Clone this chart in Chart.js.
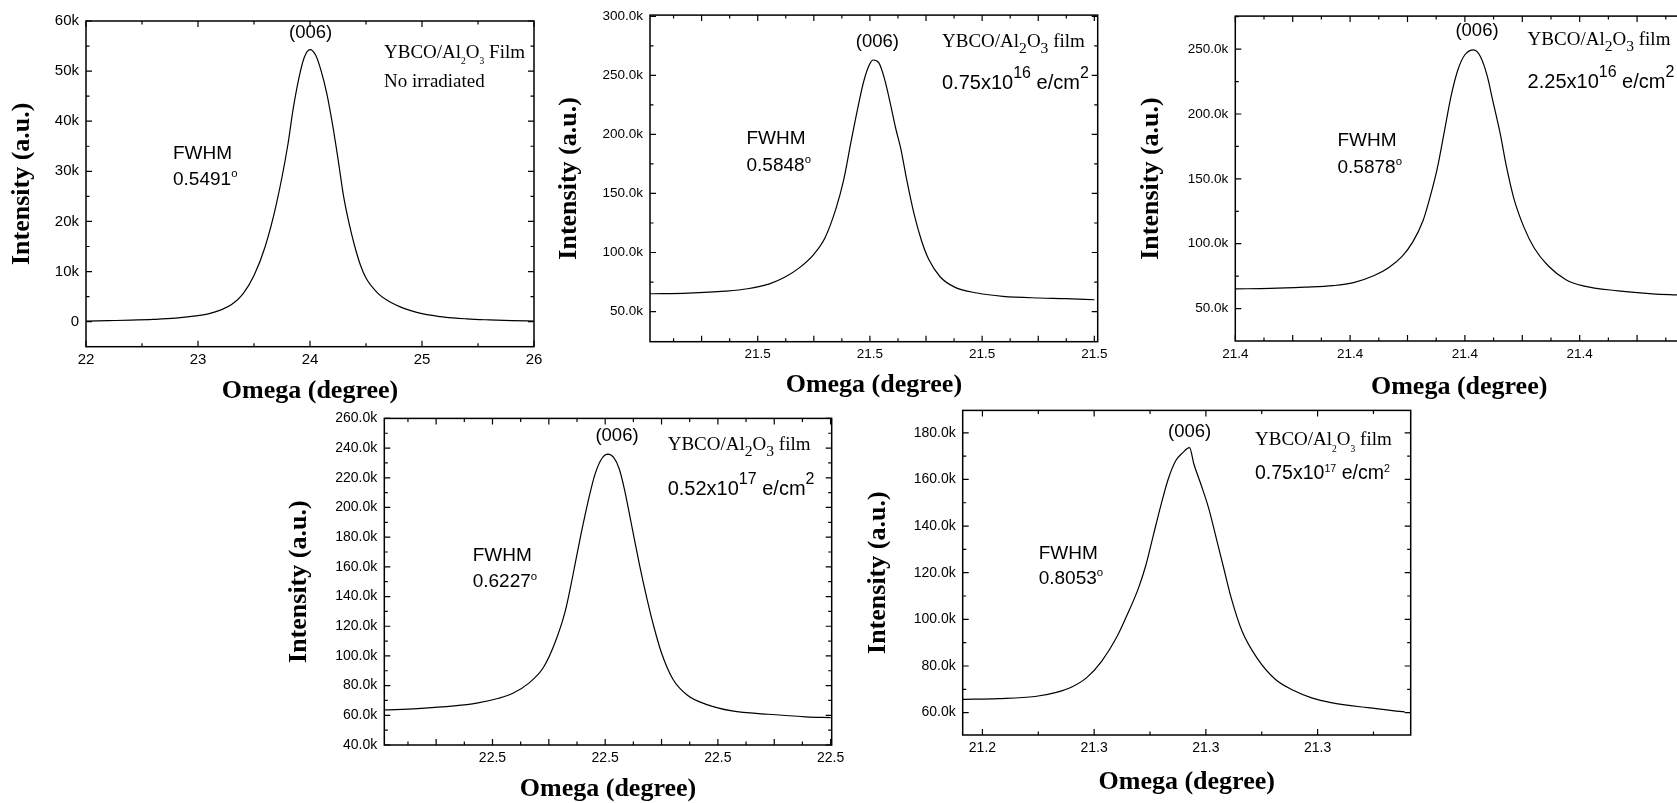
<!DOCTYPE html>
<html>
<head>
<meta charset="utf-8">
<script src="https://cdn.jsdelivr.net/npm/chart.js@4.4.1/dist/chart.umd.min.js"></script>
<style>
  html, body { margin: 0; padding: 0; width: 1677px; height: 803px; overflow: hidden; background: #fff; }
  canvas { position: absolute; }
  .note { position: absolute; white-space: nowrap; line-height: 1; color: #000; transform: translateY(-50%); }
  .note.mid { transform: translate(-50%, -50%); }
  .sans { font-family: "Liberation Sans", Arial, sans-serif; }
  .serif { font-family: "Liberation Serif", "Times New Roman", serif; }
  .note span { position: relative; line-height: 0; }
</style>
</head>
<body>
<script>
(function () {
  "use strict";

  // ---- Panel 1 : no irradiation ----
  const p1X = [22.0, 22.2, 22.4, 22.6, 22.8, 23.0, 23.1, 23.2, 23.3, 23.4, 23.5, 23.6, 23.7, 23.8, 23.85, 23.9, 23.95, 24.0, 24.05, 24.1, 24.15, 24.2, 24.25, 24.3, 24.35, 24.4, 24.45, 24.5, 24.6, 24.7, 24.8, 24.9, 25.0, 25.2, 25.4, 25.6, 25.8, 26.0];
  const p1Y = [100, 200, 300, 450, 700, 1200, 1600, 2300, 3400, 5500, 9200, 15000, 23500, 35000, 42500, 48500, 52800, 54300, 53200, 50000, 45500, 39500, 32500, 25000, 19500, 15000, 11300, 8700, 5800, 4100, 3000, 2200, 1600, 900, 550, 350, 200, 120];
  const p1XTicks = [22, 23, 24, 25, 26];
  const p1XMinor = [22.5, 23.5, 24.5, 25.5];
  const p1YTicks = [0, 10000, 20000, 30000, 40000, 50000, 60000];
  const p1YMinor = [5000, 15000, 25000, 35000, 45000, 55000];

  // ---- Panel 2 : 0.75x10^16 e/cm^2 ----
  const p2X = [21.4408, 21.4476, 21.4542, 21.4582, 21.4621, 21.4648, 21.4674, 21.4700, 21.4720, 21.4740, 21.4753, 21.4766, 21.4780, 21.4789, 21.4799, 21.4806, 21.4816, 21.4826, 21.4836, 21.4846, 21.4855, 21.4865, 21.4879, 21.4892, 21.4905, 21.4925, 21.4951, 21.4991, 21.5037, 21.5103, 21.5149, 21.5200];
  const p2Y = [65100, 65700, 67300, 69300, 73500, 79000, 87000, 98500, 112500, 138000, 161000, 193000, 226000, 245000, 259000, 263000, 260500, 247000, 227000, 205000, 188000, 163000, 132000, 110000, 94000, 79500, 70700, 65700, 62900, 61500, 61000, 60000];
  const p2XTicks = [21.46, 21.48, 21.50, 21.52];
  const p2XMajor = [21.45, 21.47, 21.49, 21.51];
  const p2XMinor = [21.445, 21.455, 21.465, 21.475, 21.485, 21.495, 21.505, 21.515];
  const p2YTicks = [50000, 100000, 150000, 200000, 250000, 300000];
  const p2YMinor = [75000, 125000, 175000, 225000, 275000];

  // ---- Panel 3 : 2.25x10^16 e/cm^2 ----
  const p3X = [21.3600, 21.3661, 21.3721, 21.3770, 21.3806, 21.3842, 21.3867, 21.3891, 21.3909, 21.3927, 21.3939, 21.3952, 21.3964, 21.3976, 21.3988, 21.4000, 21.4015, 21.4027, 21.4039, 21.4048, 21.4061, 21.4073, 21.4085, 21.4103, 21.4121, 21.4145, 21.4176, 21.4206, 21.4267, 21.4327, 21.4368, 21.4380];
  const p3Y = [65200, 65500, 66500, 67700, 70000, 75500, 81500, 90500, 101200, 117700, 135400, 158200, 186000, 214000, 234300, 245700, 249500, 244400, 229200, 211500, 186000, 158200, 135400, 112600, 96500, 83000, 72300, 67500, 63700, 61400, 60600, 60400];
  const p3XTicks = [21.36, 21.38, 21.40, 21.42];
  const p3XMajor = [21.37, 21.39, 21.41, 21.43];
  const p3XMinor = [21.365, 21.375, 21.385, 21.395, 21.405, 21.415, 21.425, 21.435];
  const p3YTicks = [50000, 100000, 150000, 200000, 250000];
  const p3YMinor = [75000, 125000, 175000, 225000, 275000];

  // ---- Panel 4 : 0.52x10^17 e/cm^2 ----
  const p4X = [22.4408, 22.4467, 22.4532, 22.4572, 22.4611, 22.4637, 22.4664, 22.4690, 22.4710, 22.4729, 22.4742, 22.4756, 22.4769, 22.4782, 22.4795, 22.4805, 22.4815, 22.4825, 22.4834, 22.4847, 22.4861, 22.4874, 22.4887, 22.4900, 22.4920, 22.4946, 22.4979, 22.5025, 22.5090, 22.5156, 22.5200];
  const p4Y = [63600, 64500, 66300, 68200, 71500, 75000, 81500, 92000, 108000, 130000, 153000, 180000, 203000, 222500, 233500, 235900, 233700, 225900, 212500, 187900, 161200, 138800, 118800, 102000, 84500, 73500, 67400, 63000, 60700, 59000, 58500];
  const p4XTicks = [22.46, 22.48, 22.50, 22.52];
  const p4XMajor = [22.45, 22.47, 22.49, 22.51];
  const p4XMinor = [22.445, 22.455, 22.465, 22.475, 22.485, 22.495, 22.505, 22.515];
  const p4YTicks = [40000, 60000, 80000, 100000, 120000, 140000, 160000, 180000, 200000, 220000, 240000, 260000];
  const p4YMinor = [50000, 70000, 90000, 110000, 130000, 150000, 170000, 190000, 210000, 230000, 250000];

  // ---- Panel 5 : 0.75x10^17 e/cm^2 ----
  const p5X = [21.2347, 21.2442, 21.2541, 21.2601, 21.2640, 21.2680, 21.2720, 21.2760, 21.2789, 21.2819, 21.2839, 21.2859, 21.2879, 21.2899, 21.2919, 21.2938, 21.2956, 21.2968, 21.2988, 21.3008, 21.3028, 21.3048, 21.3068, 21.3097, 21.3137, 21.3187, 21.3236, 21.3286, 21.3336, 21.3435, 21.3534];
  const p5Y = [65700, 66000, 66900, 68800, 71000, 75000, 82000, 92200, 102100, 113400, 123300, 136100, 148800, 160200, 168000, 171500, 173600, 166500, 157300, 147400, 134700, 121900, 109200, 95000, 83500, 74200, 69500, 66200, 64300, 62100, 60300];
  const p5XTicks = [21.24, 21.27, 21.30, 21.33];
  const p5XMinor = [21.255, 21.285, 21.315, 21.345];
  const p5YTicks = [60000, 80000, 100000, 120000, 140000, 160000, 180000];
  const p5YMinor = [70000, 90000, 110000, 130000, 150000, 170000];

  const SANS = '"Liberation Sans", Arial, sans-serif';
  const SERIF = '"Liberation Serif", "Times New Roman", serif';
  const TITLE_SIZE = 26;
  const TITLE_LH = TITLE_SIZE * 1.2;
  const MAJOR = 6;
  const MINOR = 3.5;

  Chart.defaults.font.family = SANS;
  Chart.defaults.color = '#000';

  const kFmt = v => (v / 1000).toFixed(1) + 'k';

  // box: plot area edges (L,R,T,B) and axis title centres (tx,ty) in page pixels
  const panels = [
    { xs: p1X, ys: p1Y, xMin: 22, xMax: 26, yMin: -5000, yMax: 60000,
      xLab: p1XTicks, xMaj: [], xMnr: p1XMinor, yLab: p1YTicks, yMnr: p1YMinor,
      xFmt: v => String(v), yFmt: v => (v === 0 ? '0' : (v / 1000) + 'k'), fs: 15,
      box: { L: 86, R: 534, T: 17.3, B: 346.7, tx: 22.7, ty: 391 } },
    { xs: p2X, ys: p2Y, xMin: 21.4408, xMax: 21.5206, yMin: 24500, yMax: 301000,
      xLab: p2XTicks, xMaj: p2XMajor, xMnr: p2XMinor, yLab: p2YTicks, yMnr: p2YMinor,
      xFmt: v => v.toFixed(1), yFmt: kFmt, fs: 13.5,
      box: { L: 650, R: 1097.7, T: 12.3, B: 341.7, tx: 570, ty: 385 } },
    { xs: p3X, ys: p3Y, xMin: 21.36, xMax: 21.438, yMin: 25000, yMax: 275500,
      xLab: p3XTicks, xMaj: p3XMajor, xMnr: p3XMinor, yLab: p3YTicks, yMnr: p3YMinor,
      xFmt: v => v.toFixed(1), yFmt: kFmt, fs: 13.5,
      box: { L: 1235.3, R: 1683, T: 12.7, B: 341, tx: 1151.7, ty: 387 } },
    { xs: p4X, ys: p4Y, xMin: 22.4408, xMax: 22.5202, yMin: 40000, yMax: 260000,
      xLab: p4XTicks, xMaj: p4XMajor, xMnr: p4XMinor, yLab: p4YTicks, yMnr: p4YMinor,
      xFmt: v => v.toFixed(1), yFmt: kFmt, fs: 14,
      box: { L: 384.3, R: 831.7, T: 415, B: 745, tx: 299.3, ty: 789 } },
    { xs: p5X, ys: p5Y, xMin: 21.2347, xMax: 21.355, yMin: 50400, yMax: 189600,
      xLab: p5XTicks, xMaj: [], xMnr: p5XMinor, yLab: p5YTicks, yMnr: p5YMinor,
      xFmt: v => v.toFixed(1), yFmt: kFmt, fs: 14,
      box: { L: 962.7, R: 1410.7, T: 407.3, B: 735, tx: 879, ty: 782 } }
  ];

  // Origin-style frame with inward ticks on all four sides
  function drawFrame(chart, p) {
    const { ctx, chartArea: a, scales: { x, y } } = chart;
    ctx.save();
    ctx.strokeStyle = '#000';
    ctx.lineWidth = 1.2;
    ctx.beginPath();
    const xt = (vals, len) => vals.forEach(v => {
      const px = x.getPixelForValue(v);
      if (px < a.left - 0.5 || px > a.right + 0.5) return;
      ctx.moveTo(px, a.bottom); ctx.lineTo(px, a.bottom - len);
      ctx.moveTo(px, a.top); ctx.lineTo(px, a.top + len);
    });
    const yt = (vals, len) => vals.forEach(v => {
      const py = y.getPixelForValue(v);
      if (py < a.top - 0.5 || py > a.bottom + 0.5) return;
      ctx.moveTo(a.left, py); ctx.lineTo(a.left + len, py);
      ctx.moveTo(a.right, py); ctx.lineTo(a.right - len, py);
    });
    xt(p.xLab, MAJOR); xt(p.xMaj, MAJOR); xt(p.xMnr, MINOR);
    yt(p.yLab, MAJOR); yt(p.yMnr, MINOR);
    ctx.stroke();
    ctx.lineWidth = 1.5;
    ctx.strokeRect(a.left, a.top, a.right - a.left, a.bottom - a.top);
    ctx.restore();
  }

  panels.forEach(p => {
    const b = p.box;
    const cl = Math.round(b.tx - TITLE_LH / 2);
    const cb = Math.round(b.ty + TITLE_LH / 2);
    const ct = Math.round(b.T - 12);
    const cr = Math.round(b.R + 22);
    const cv = document.createElement('canvas');
    cv.width = cr - cl;
    cv.height = cb - ct;
    cv.style.left = cl + 'px';
    cv.style.top = ct + 'px';
    document.body.appendChild(cv);

    new Chart(cv, {
      type: 'line',
      data: {
        datasets: [{
          data: p.xs.map((x, i) => ({ x: x, y: p.ys[i] })),
          borderColor: '#000',
          borderWidth: 1.2,
          pointRadius: 0,
          cubicInterpolationMode: 'monotone',
          fill: false
        }]
      },
      options: {
        responsive: false,
        animation: false,
        events: [],
        layout: { padding: { left: 0, bottom: 0, top: b.T - ct, right: cr - b.R } },
        plugins: { legend: { display: false }, tooltip: { enabled: false } },
        scales: {
          x: {
            type: 'linear',
            min: p.xMin,
            max: p.xMax,
            grid: { display: false, drawTicks: false },
            border: { display: false },
            afterBuildTicks: s => { s.ticks = p.xLab.map(v => ({ value: v })); },
            afterFit: s => { s.height = cb - b.B; },
            ticks: {
              callback: p.xFmt, autoSkip: false, maxRotation: 0, minRotation: 0,
              padding: 13 - p.fs * 0.6, font: { size: p.fs }, color: '#000'
            },
            title: {
              display: true, text: 'Omega (degree)', color: '#000', padding: 0,
              font: { family: SERIF, size: TITLE_SIZE, weight: 'bold' }
            }
          },
          y: {
            type: 'linear',
            min: p.yMin,
            max: p.yMax,
            grid: { display: false, drawTicks: false },
            border: { display: false },
            afterBuildTicks: s => { s.ticks = p.yLab.map(v => ({ value: v })); },
            afterFit: s => { s.width = b.L - cl; },
            ticks: { callback: p.yFmt, autoSkip: false, padding: 7, font: { size: p.fs }, color: '#000' },
            title: {
              display: true, text: 'Intensity (a.u.)', color: '#000', padding: 0,
              font: { family: SERIF, size: TITLE_SIZE, weight: 'bold' }
            }
          }
        }
      },
      plugins: [{ id: 'frameTicks', afterDraw: chart => drawFrame(chart, p) }]
    });
  });

  // ---- text annotations ----
  const subBig = t => '<span style="font-size:.82em;top:.38em">' + t + '</span>';
  const subTiny = t => '<span style="font-size:.5em;top:.7em">' + t + '</span>';
  const supBig = t => '<span style="font-size:.8em;top:-.69em">' + t + '</span>';
  const supSmall = t => '<span style="font-size:.55em;top:-.7em">' + t + '</span>';
  const deg = '<span style="font-size:.6em;top:-.68em">o</span>';

  const notes = [
    { x: 310.7, y: 32.2, f: 'sans', s: 18.5, mid: true, h: '(006)' },
    { x: 384, y: 50.8, f: 'serif', s: 19, h: 'YBCO/Al' + subTiny('2') + 'O' + subTiny('3') + ' Film' },
    { x: 384, y: 80.3, f: 'serif', s: 19, h: 'No irradiated' },
    { x: 173, y: 151.7, f: 'sans', s: 19, h: 'FWHM' },
    { x: 173, y: 177.8, f: 'sans', s: 19, h: '0.5491' + deg },

    { x: 877.4, y: 41, f: 'sans', s: 18.5, mid: true, h: '(006)' },
    { x: 942, y: 40.3, f: 'serif', s: 19, h: 'YBCO/Al' + subBig('2') + 'O' + subBig('3') + ' film' },
    { x: 942, y: 82, f: 'sans', s: 20, h: '0.75x10' + supBig('16') + ' e/cm' + supBig('2') },
    { x: 746.5, y: 137, f: 'sans', s: 19, h: 'FWHM' },
    { x: 746.5, y: 163.5, f: 'sans', s: 19, h: '0.5848' + deg },

    { x: 1477, y: 30, f: 'sans', s: 18.5, mid: true, h: '(006)' },
    { x: 1527.6, y: 38.3, f: 'serif', s: 19, h: 'YBCO/Al' + subBig('2') + 'O' + subBig('3') + ' film' },
    { x: 1527.6, y: 80.7, f: 'sans', s: 20, h: '2.25x10' + supBig('16') + ' e/cm' + supBig('2') },
    { x: 1337.5, y: 138.7, f: 'sans', s: 19, h: 'FWHM' },
    { x: 1337.5, y: 165.5, f: 'sans', s: 19, h: '0.5878' + deg },

    { x: 617, y: 434.7, f: 'sans', s: 18.5, mid: true, h: '(006)' },
    { x: 667.7, y: 443.3, f: 'serif', s: 19, h: 'YBCO/Al' + subBig('2') + 'O' + subBig('3') + ' film' },
    { x: 667.7, y: 488.3, f: 'sans', s: 20, h: '0.52x10' + supBig('17') + ' e/cm' + supBig('2') },
    { x: 472.7, y: 554, f: 'sans', s: 19, h: 'FWHM' },
    { x: 472.7, y: 580.3, f: 'sans', s: 19, h: '0.6227' + deg },

    { x: 1189.6, y: 430.8, f: 'sans', s: 18.5, mid: true, h: '(006)' },
    { x: 1255, y: 438, f: 'serif', s: 19, h: 'YBCO/Al' + subTiny('2') + 'O' + subTiny('3') + ' film' },
    { x: 1255, y: 473.3, f: 'sans', s: 19.5, h: '0.75x10' + supSmall('17') + ' e/cm' + supSmall('2') },
    { x: 1038.7, y: 551.7, f: 'sans', s: 19, h: 'FWHM' },
    { x: 1038.7, y: 577, f: 'sans', s: 19, h: '0.8053' + deg }
  ];

  notes.forEach(n => {
    const d = document.createElement('div');
    d.className = 'note ' + n.f + (n.mid ? ' mid' : '');
    d.style.left = n.x + 'px';
    d.style.top = n.y + 'px';
    d.style.fontSize = n.s + 'px';
    d.innerHTML = n.h;
    document.body.appendChild(d);
  });

})();
</script>
</body>
</html>
